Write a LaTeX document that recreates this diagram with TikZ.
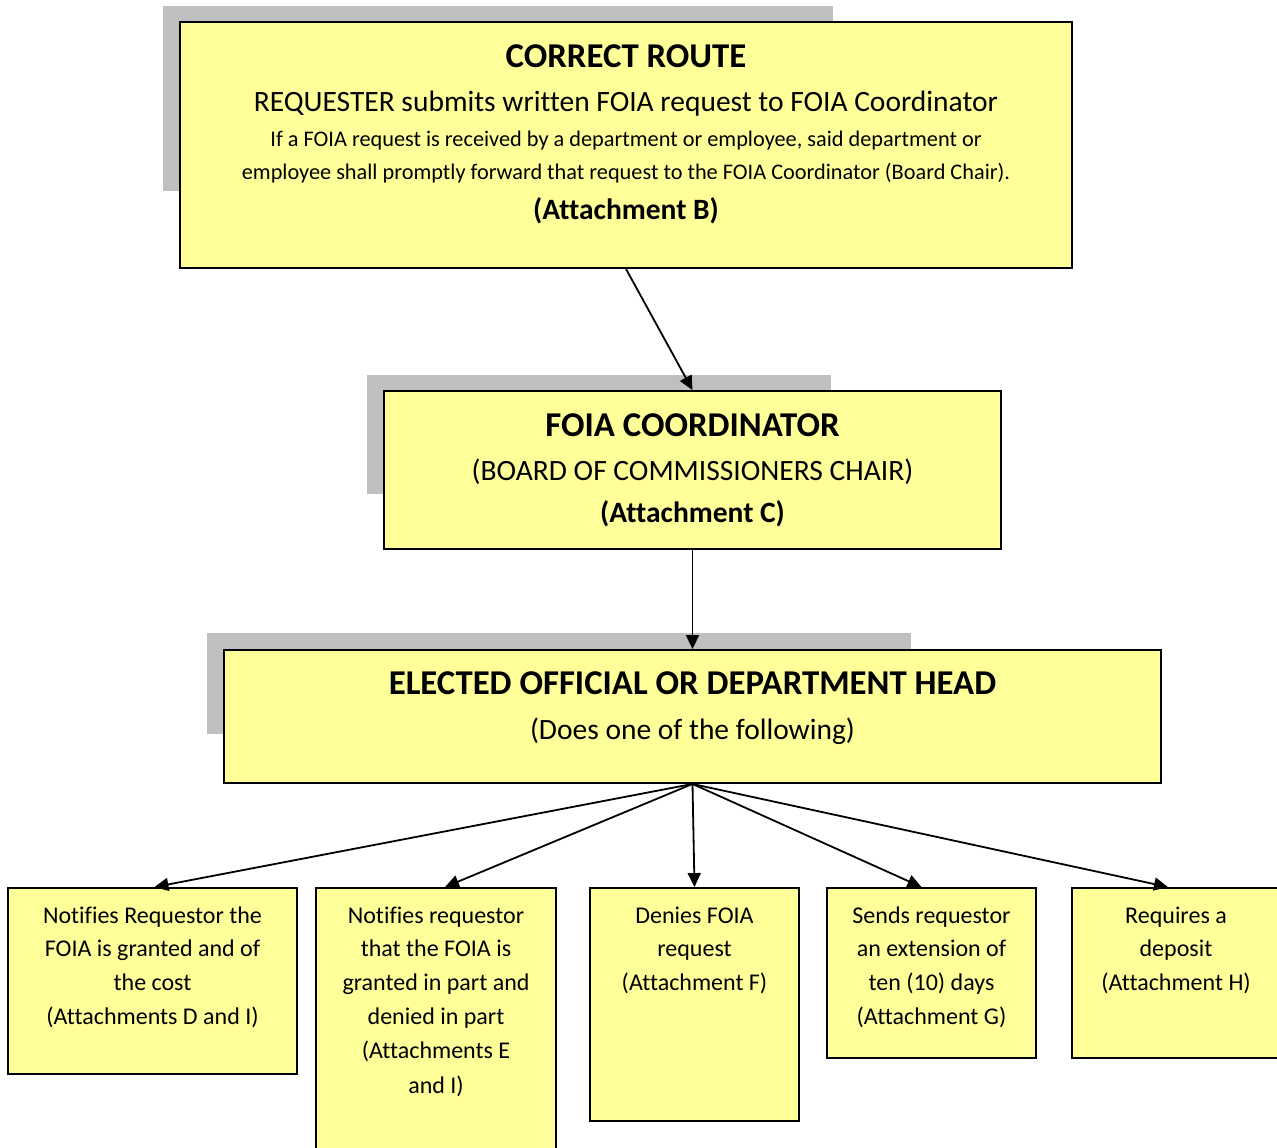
\documentclass[tikz,border=0pt]{standalone}
\usepackage{fontspec}
\setmainfont{Carlito}[Ligatures={NoCommon}]
\usetikzlibrary{arrows.meta}
\definecolor{boxyellow}{RGB}{255,255,153}
\definecolor{shadowgray}{RGB}{191,191,191}
\tikzset{
  shadowbox/.style={rectangle, fill=shadowgray, draw=none, inner sep=0pt},
  ybox/.style={rectangle, fill=boxyellow, draw=black, line width=1.9pt, inner sep=0pt},
  bigtitle/.style={anchor=base, inner sep=0pt, font=\fontsize{34.8}{40}\selectfont\bfseries},
  subline/.style={anchor=base, inner sep=0pt, font=\fontsize{29.5}{34}\selectfont},
  subbold/.style={anchor=base, inner sep=0pt, font=\fontsize{29.5}{34}\selectfont\bfseries},
  smallline/.style={anchor=base, inner sep=0pt, font=\fontsize{22.3}{26}\selectfont},
  leafline/.style={anchor=base, inner sep=0pt, font=\fontsize{24}{28}\selectfont},
  conn/.style={line width=1.8pt, -{Triangle[length=14pt,width=13pt]}}
}
\begin{document}
\begin{tikzpicture}[x=1pt,y=-1pt]
\useasboundingbox (0,0) rectangle (1277,1148);
\clip (0,0) rectangle (1277,1148);
\fill[white] (0,0) rectangle (1277,1148);

% shadows
\node[shadowbox, minimum width=670pt, minimum height=185pt] (s1) at (498,98.5) {};
\node[shadowbox, minimum width=464pt, minimum height=119pt] (s2) at (599,434.5) {};
\node[shadowbox, minimum width=704pt, minimum height=101pt] (s3) at (559,683.5) {};

% main boxes
\node[ybox, minimum width=892pt, minimum height=246pt] (top) at (626,145) {};
\node[ybox, minimum width=617pt, minimum height=158pt] (coord) at (692.5,470) {};
\node[ybox, minimum width=937pt, minimum height=133pt] (head) at (692.5,716.5) {};

% top texts
\node[bigtitle] (t1) at (626,67.5) {CORRECT ROUTE};
\node[subline] (t2) at (626,111) {REQUESTER submits written FOIA request to FOIA Coordinator};
\node[smallline] (t3) at (626,146.5) {If a FOIA request is received by a department or employee, said department or};
\node[smallline] (t4) at (626,179.5) {employee shall promptly forward that request to the FOIA Coordinator (Board Chair).};
\node[subbold] (t5) at (626,219) {(Attachment B)};

% coordinator texts
\node[bigtitle] (c1) at (692.5,436.5) {FOIA COORDINATOR};
\node[subline] (c2) at (692.5,480) {(BOARD OF COMMISSIONERS CHAIR)};
\node[subbold] (c3) at (692.5,522) {(Attachment C)};

% head texts
\node[bigtitle] (h1) at (692.5,694.5) {ELECTED OFFICIAL OR DEPARTMENT HEAD};
\node[subline] (h2) at (692.5,739) {(Does one of the following)};

% leaf boxes
\node[ybox, minimum width=289pt, minimum height=186pt] (l1) at (152.5,981) {};
\node[ybox, minimum width=240pt, minimum height=272pt] (l2) at (436,1024) {};
\node[ybox, minimum width=209pt, minimum height=233pt] (l3) at (694.5,1004.5) {};
\node[ybox, minimum width=209pt, minimum height=170pt] (l4) at (931.5,973) {};
\node[ybox, minimum width=218pt, minimum height=170pt] (l5) at (1181,973) {};

% leaf texts
\node[leafline] (l1a) at (152.5,923) {Notifies Requestor the};
\node[leafline] (l1b) at (152.5,956) {FOIA is granted and of};
\node[leafline] (l1c) at (152.5,990) {the cost};
\node[leafline] (l1d) at (152.5,1024) {(Attachments D and I)};

\node[leafline] (l2a) at (436,923) {Notifies requestor};
\node[leafline] (l2b) at (436,956) {that the FOIA is};
\node[leafline] (l2c) at (436,990) {granted in part and};
\node[leafline] (l2d) at (436,1024) {denied in part};
\node[leafline] (l2e) at (436,1058) {(Attachments E};
\node[leafline] (l2f) at (436,1093) {and I)};

\node[leafline] (l3a) at (694.5,923) {Denies FOIA};
\node[leafline] (l3b) at (694.5,956) {request};
\node[leafline] (l3c) at (694.5,990) {(Attachment F)};

\node[leafline] (l4a) at (931.5,923) {Sends requestor};
\node[leafline] (l4b) at (931.5,956) {an extension of};
\node[leafline] (l4c) at (931.5,990) {ten (10) days};
\node[leafline] (l4d) at (931.5,1024) {(Attachment G)};

\node[leafline] (l5a) at (1176,923) {Requires a};
\node[leafline] (l5b) at (1176,956) {deposit};
\node[leafline] (l5c) at (1176,990) {(Attachment H)};

% connectors
\draw[conn] (top.south) -- (coord.north);
\draw[conn] (coord.south) -- (head.north);
\draw[conn] (head.south) -- ([xshift=2pt]l1.north);
\draw[conn] (head.south) -- ([xshift=9pt]l2.north);
\draw[conn] (head.south) -- (l3.north);
\draw[conn] (head.south) -- ([xshift=-10pt]l4.north);
\draw[conn] (head.south) -- ([xshift=-13pt]l5.north);
\end{tikzpicture}
\end{document}
